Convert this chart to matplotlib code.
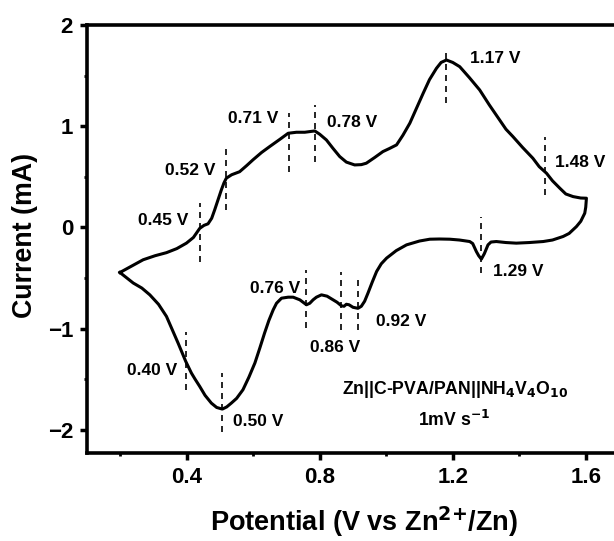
import matplotlib
matplotlib.use("Agg")
import matplotlib.pyplot as plt
from matplotlib.ticker import MultipleLocator

plt.rcParams['font.family'] = ['Liberation Sans', 'DejaVu Sans']
plt.rcParams['font.weight'] = 'bold'
plt.rcParams['mathtext.default'] = 'bf'

# anodic sweep, 0.2 V -> 1.6 V
anodic_v = [0.199, 0.230, 0.269, 0.305, 0.339, 0.370, 0.399, 0.420, 0.439, 0.452,
            0.464, 0.475, 0.484, 0.495, 0.504, 0.512, 0.519, 0.535, 0.559, 0.580,
            0.599, 0.625, 0.650, 0.680, 0.705, 0.730, 0.755, 0.785, 0.800, 0.820,
            0.840, 0.860, 0.880, 0.905, 0.925, 0.940, 0.965, 0.990, 1.010, 1.031,
            1.050, 1.071, 1.090, 1.111, 1.130, 1.151, 1.165, 1.181, 1.200, 1.221,
            1.250, 1.281, 1.310, 1.341, 1.360, 1.381, 1.410, 1.441, 1.460, 1.482,
            1.500, 1.522, 1.540, 1.562, 1.585, 1.602]
anodic_i = [-0.446, -0.39, -0.32, -0.28, -0.25, -0.21, -0.156, -0.10, -0.01, 0.02,
            0.035, 0.09, 0.173, 0.28, 0.37, 0.44, 0.486, 0.52, 0.55, 0.61,
            0.667, 0.74, 0.80, 0.87, 0.93, 0.94, 0.94, 0.953, 0.92, 0.864,
            0.78, 0.70, 0.645, 0.617, 0.62, 0.634, 0.69, 0.749, 0.78, 0.815,
            0.91, 1.03, 1.17, 1.325, 1.46, 1.572, 1.63, 1.654, 1.63, 1.588,
            1.48, 1.358, 1.21, 1.062, 0.97, 0.897, 0.79, 0.683, 0.60, 0.535,
            0.46, 0.387, 0.33, 0.304, 0.29, 0.288]

# cathodic sweep, 1.6 V -> 0.2 V
cathodic_v = [1.602, 1.600, 1.597, 1.585, 1.572, 1.550, 1.532, 1.500, 1.472, 1.430,
              1.391, 1.360, 1.331, 1.315, 1.306, 1.295, 1.286, 1.278, 1.271, 1.260,
              1.251, 1.220, 1.191, 1.160, 1.131, 1.100, 1.061, 1.030, 1.001, 0.985,
              0.971, 0.958, 0.945, 0.935, 0.925, 0.915, 0.900, 0.888, 0.880, 0.873,
              0.865, 0.852, 0.840, 0.822, 0.805, 0.790, 0.780, 0.770, 0.760, 0.750,
              0.740, 0.720, 0.705, 0.685, 0.670, 0.660, 0.647, 0.634, 0.620, 0.605,
              0.587, 0.569, 0.550, 0.534, 0.520, 0.507, 0.490, 0.474, 0.455, 0.439,
              0.425, 0.414, 0.397, 0.385, 0.374, 0.355, 0.339, 0.315, 0.289, 0.265,
              0.239, 0.220, 0.199]
cathodic_i = [0.288, 0.20, 0.14, 0.06, 0.008, -0.06, -0.09, -0.125, -0.14, -0.15,
              -0.156, -0.15, -0.14, -0.145, -0.173, -0.26, -0.314, -0.28, -0.239, -0.16,
              -0.14, -0.125, -0.117, -0.115, -0.117, -0.135, -0.173, -0.23, -0.304, -0.36,
              -0.436, -0.54, -0.65, -0.73, -0.78, -0.80, -0.79, -0.765, -0.76, -0.78,
              -0.775, -0.74, -0.716, -0.68, -0.667, -0.69, -0.716, -0.75, -0.765, -0.74,
              -0.716, -0.69, -0.69, -0.70, -0.75, -0.815, -0.92, -1.045, -1.19, -1.34,
              -1.48, -1.605, -1.69, -1.737, -1.775, -1.796, -1.78, -1.737, -1.66, -1.572,
              -1.50, -1.44, -1.325, -1.23, -1.144, -1.00, -0.88, -0.76, -0.667, -0.60,
              -0.55, -0.50, -0.446]

# peak markers: position, dashed extent, label and label position
peak_v = [0.441, 0.519, 0.708, 0.787, 1.180, 1.477, 1.286, 0.760, 0.863, 0.915, 0.397, 0.507]
peak_top = [0.24, 0.77, 1.13, 1.21, 1.77, 0.89, 0.10, -0.42, -0.44, -0.52, -1.03, -1.44]
peak_bot = [-0.34, 0.17, 0.55, 0.65, 1.23, 0.32, -0.45, -0.99, -1.01, -1.01, -1.61, -2.02]
peak_labels = ['0.45 V', '0.52 V', '0.71 V', '0.78 V', '1.17 V', '1.48 V',
               '1.29 V', '0.76 V', '0.86 V', '0.92 V', '0.40 V', '0.50 V']
label_x = [0.405, 0.486, 0.676, 0.821, 1.251, 1.507, 1.320, 0.740, 0.845, 0.968, 0.372, 0.538]
label_y = [0.07, 0.56, 1.08, 1.04, 1.67, 0.64, -0.44, -0.60, -1.19, -0.93, -1.41, -1.92]
label_ha = ['right', 'right', 'right', 'left', 'left', 'left',
            'left', 'right', 'center', 'left', 'right', 'left']

fig = plt.figure(figsize=(6.14, 5.41), dpi=100)
ax = fig.add_axes([87 / 614, 88 / 541, 532 / 614, 428 / 541])

ax.plot(anodic_v + cathodic_v, anodic_i + cathodic_i, color='black', lw=2.2,
        solid_joinstyle='round')
ax.vlines(peak_v, peak_bot, peak_top, colors='black', lw=1.2,
          linestyles=(0, (3.6, 3.0)))
for x, y, s, ha in zip(label_x, label_y, peak_labels, label_ha):
    ax.text(x, y, s, ha=ha, va='center', fontsize=12.5, fontweight='bold')

ax.text(1.208, -1.60, r'Zn||C-PVA/PAN||NH$_4$V$_4$O$_{10}$', ha='center', va='center',
        fontsize=12.7, fontweight='bold')
ax.text(1.205, -1.90, r'1mV s$^{-1}$', ha='center', va='center',
        fontsize=12.7, fontweight='bold')

ax.set_xlim(0.1, 1.7)
ax.set_ylim(-2.23, 2.0)
ax.xaxis.set_major_locator(MultipleLocator(0.4))
ax.xaxis.set_minor_locator(MultipleLocator(0.2))
ax.yaxis.set_major_locator(MultipleLocator(1))
ax.yaxis.set_minor_locator(MultipleLocator(0.5))
ax.set_xticks([0.4, 0.8, 1.2, 1.6])
ax.set_xticklabels(['0.4', '0.8', '1.2', '1.6'])
ax.set_yticks([-2, -1, 0, 1, 2])
ax.set_yticklabels(['\u22122', '\u22121', '0', '1', '2'])
ax.tick_params(which='major', direction='out', length=5, width=2.5, labelsize=16, pad=5)
ax.tick_params(which='minor', direction='out', length=2.5, width=2)
for lab in ax.get_xticklabels() + ax.get_yticklabels():
    lab.set_fontweight('bold')
for sp in ax.spines.values():
    sp.set_linewidth(2.6)

ax.set_xlabel(r'Potential (V vs Zn$^{2{+}}$/Zn)', fontsize=19.5, fontweight='bold')
ax.set_ylabel('Current (mA)', fontsize=19.3, fontweight='bold')
ax.xaxis.label.set_va('center')
ax.yaxis.label.set_va('center')
ax.xaxis.set_label_coords((364 - 87) / 532, -69 / 428)
ax.yaxis.set_label_coords((25 - 87) / 532, (453 - 235) / 428)

fig.savefig('out.png', dpi=100)
